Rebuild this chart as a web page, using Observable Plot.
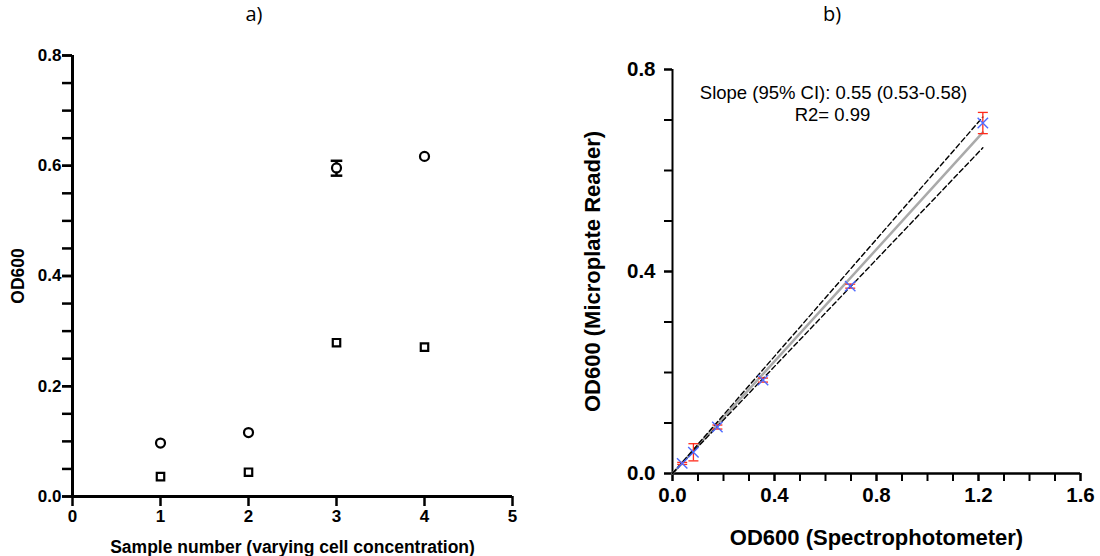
<!DOCTYPE html>
<html><head><meta charset="utf-8">
<script src="https://cdn.jsdelivr.net/npm/d3@7"></script>
<script src="https://cdn.jsdelivr.net/npm/@observablehq/plot@0.6"></script>
<style>
body{margin:0;background:#fff;}
#wrap{position:relative;width:1100px;height:556px;overflow:hidden;background:#fff;}
.title{position:absolute;top:0px;font-family:"Open Sans",sans-serif;font-size:20px;line-height:28px;color:#000;transform:translateX(-50%);}
.panel{position:absolute;top:30px;}
#pa [aria-label="y-axis tick"] path, #pa [aria-label="x-axis tick"] path {stroke-width:2.5px;}
#pb [aria-label="y-axis tick"] path, #pb [aria-label="x-axis tick"] path {stroke-width:2px;}
#pa [aria-label="y-axis tick label"], #pa [aria-label="x-axis tick label"] {font-size:17px;font-weight:bold;}
#pb [aria-label="y-axis tick label"], #pb [aria-label="x-axis tick label"] {font-size:20.5px;font-weight:bold;}
</style></head><body>
<div id="wrap">
<div class="title" style="left:254px">a)</div>
<div class="title" style="left:832px">b)</div>
<div class="panel" id="pa" style="left:0px"></div>
<div class="panel" id="pb" style="left:550px"></div>
</div>
<script>
// ---------- Panel a data ----------
const samples = [1, 2, 3, 4];
const circleOD = [0.097, 0.116, 0.596, 0.617];
const circleLow = [null, null, 0.582, null];
const circleHigh = [null, null, 0.609, null];
const squareOD = [0.036, 0.044, 0.279, 0.271];
const aXTicks = [0, 1, 2, 3, 4, 5];
const aYTicks = [0, 0.05, 0.1, 0.15, 0.2, 0.25, 0.3, 0.35, 0.4, 0.45, 0.5, 0.55, 0.6, 0.65, 0.7, 0.75, 0.8];
const aYLabels = [0, 0.2, 0.4, 0.6, 0.8];
const aXTitle = "Sample number (varying cell concentration)";
const aYTitle = "OD600";

// ---------- Panel b data ----------
const spectro = [0.038, 0.082, 0.176, 0.355, 0.697, 1.217];
const reader = [0.020, 0.042, 0.092, 0.185, 0.371, 0.694];
const readerErr = [0.002, 0.017, 0.004, 0.004, 0.004, 0.021];
const fitSlopes = [0.53, 0.555, 0.58]; // lower CI, fit, upper CI
const fitKinds = ["low", "fit", "high"];
const bXTicks = [0, 0.1, 0.2, 0.3, 0.4, 0.5, 0.6, 0.7, 0.8, 0.9, 1.0, 1.1, 1.2, 1.3, 1.4, 1.5, 1.6];
const bXLabels = [0, 0.4, 0.8, 1.2, 1.6];
const bYTicks = [0, 0.1, 0.2, 0.3, 0.4, 0.5, 0.6, 0.7, 0.8];
const bYLabels = [0, 0.4, 0.8];
const bAnnot = ["Slope (95% CI): 0.55 (0.53-0.58)", "R2= 0.99"];
const bXTitle = "OD600 (Spectrophotometer)";
const bYTitle = "OD600 (Microplate Reader)";

// ---------- helpers ----------
const cap = {draw(ctx, size) { const r = Math.sqrt(size / Math.PI); ctx.moveTo(-r, 0); ctx.lineTo(r, 0); }};
const FONT = '"Liberation Sans", Arial, sans-serif';

// ---------- Panel a ----------
const aRows = samples.map((s, i) => ({sample: s, circle: circleOD[i], lo: circleLow[i], hi: circleHigh[i], square: squareOD[i]}));
const aErr = aRows.filter(d => d.lo != null);

const plotA = Plot.plot({
  width: 550, height: 526,
  marginLeft: 72, marginRight: 38, marginTop: 25, marginBottom: 60,
  x: {domain: [0, 5], label: null},
  y: {domain: [0, 0.8], label: null},
  style: {fontFamily: FONT, fontWeight: "bold", color: "#000", background: "transparent", overflow: "visible"},
  marks: [
    Plot.axisY({ticks: aYTicks, tickSize: 10, tickFormat: () => "", strokeWidth: 2.5, label: null}),
    Plot.axisY({ticks: aYLabels, tickSize: 10, tickPadding: 1, tickFormat: d3.format(".1f"), fontSize: 17, fontWeight: "bold", strokeWidth: 2.5, label: null}),
    Plot.axisX({ticks: aXTicks, tickSize: 10, tickPadding: 3, tickFormat: d3.format("d"), fontSize: 17, fontWeight: "bold", strokeWidth: 3, label: null}),
    Plot.ruleX([0], {stroke: "#000", strokeWidth: 3}),
    Plot.ruleY([0], {stroke: "#000", strokeWidth: 3}),
    Plot.ruleX(aErr, {x: "sample", y1: "lo", y2: "hi", stroke: "#000", strokeWidth: 2.5}),
    Plot.dot(aErr, {x: "sample", y: "lo", symbol: cap, r: 5.8, stroke: "#000", strokeWidth: 2.5}),
    Plot.dot(aErr, {x: "sample", y: "hi", symbol: cap, r: 5.8, stroke: "#000", strokeWidth: 2.5}),
    Plot.dot(aRows, {x: "sample", y: "circle", r: 4.5, stroke: "#000", strokeWidth: 2.2, fill: "white"}),
    Plot.dot(aRows, {x: "sample", y: "square", symbol: "square", r: 4.2, stroke: "#000", strokeWidth: 2.2, fill: "white"}),
    Plot.text([aXTitle], {frameAnchor: "bottom", lineAnchor: "middle", textAnchor: "middle", dy: 51, fontSize: 17.5, fontWeight: "bold"}),
    Plot.text([aYTitle], {frameAnchor: "left", lineAnchor: "middle", textAnchor: "middle", dx: -54.5, rotate: -90, fontSize: 17.5, fontWeight: "bold"})
  ]
});
document.getElementById("pa").append(plotA);

// ---------- Panel b ----------
const bRows = spectro.map((x, i) => ({x, y: reader[i], lo: reader[i] - readerErr[i], hi: reader[i] + readerErr[i]}));
const xMax = d3.max(spectro);
const fitRows = fitSlopes.flatMap((s, i) => [0, xMax].map(x => ({kind: fitKinds[i], x, y: s * x})));

const plotB = Plot.plot({
  width: 550, height: 526,
  marginLeft: 122, marginRight: 20, marginTop: 39, marginBottom: 83,
  x: {domain: [0, 1.6], label: null},
  y: {domain: [0, 0.8], label: null},
  style: {fontFamily: FONT, fontWeight: "bold", color: "#000", background: "transparent", overflow: "visible"},
  marks: [
    Plot.axisY({ticks: bYTicks, tickSize: 8, tickFormat: () => "", strokeWidth: 2, label: null}),
    Plot.axisY({ticks: bYLabels, tickSize: 8, tickPadding: 9, tickFormat: d3.format(".1f"), fontSize: 20.5, fontWeight: "bold", strokeWidth: 2, label: null}),
    Plot.axisX({ticks: bXTicks, tickSize: 8, tickFormat: () => "", strokeWidth: 2, label: null}),
    Plot.axisX({ticks: bXLabels, tickSize: 8, tickPadding: 6, tickFormat: d3.format(".1f"), fontSize: 20.5, fontWeight: "bold", strokeWidth: 2, label: null}),
    Plot.ruleX([0], {stroke: "#000", strokeWidth: 2}),
    Plot.ruleY([0], {stroke: "#000", strokeWidth: 2.5}),
    Plot.line(fitRows.filter(d => d.kind === "fit"), {x: "x", y: "y", stroke: "#aaaaaa", strokeWidth: 2.5}),
    Plot.line(fitRows.filter(d => d.kind !== "fit"), {x: "x", y: "y", z: "kind", stroke: "#000", strokeWidth: 1.4, strokeDasharray: "5,3"}),
    Plot.ruleX(bRows, {x: "x", y1: "lo", y2: "hi", stroke: "#ff2a1a", strokeWidth: 1.3}),
    Plot.dot(bRows, {x: "x", y: "lo", symbol: cap, r: 5, stroke: "#ff2a1a", strokeWidth: 1.3}),
    Plot.dot(bRows, {x: "x", y: "hi", symbol: cap, r: 5, stroke: "#ff2a1a", strokeWidth: 1.3}),
    Plot.dot(bRows, {x: "x", y: "y", symbol: "times", r: 4.8, stroke: "#4f6bff", strokeWidth: 1.4}),
    Plot.text([bAnnot[0]], {frameAnchor: "top", lineAnchor: "middle", textAnchor: "middle", dx: -43, dy: 24, fontSize: 18.5, fontWeight: "normal"}),
    Plot.text([bAnnot[1]], {frameAnchor: "top", lineAnchor: "middle", textAnchor: "middle", dx: -44, dy: 46, fontSize: 18.5, fontWeight: "normal"}),
    Plot.text([bXTitle], {frameAnchor: "bottom", lineAnchor: "middle", textAnchor: "middle", dy: 64, fontSize: 22, fontWeight: "bold"}),
    Plot.text([bYTitle], {frameAnchor: "left", lineAnchor: "middle", textAnchor: "middle", dx: -80, rotate: -90, fontSize: 22, fontWeight: "bold"})
  ]
});
document.getElementById("pb").append(plotB);
</script>
</body></html>
